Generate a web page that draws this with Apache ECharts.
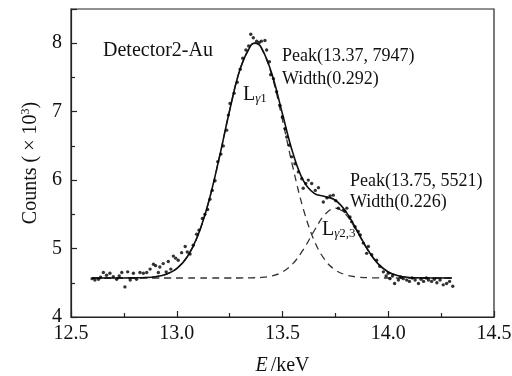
<!DOCTYPE html>
<html>
<head>
<meta charset="utf-8">
<script src="https://cdn.jsdelivr.net/npm/echarts@6/dist/echarts.min.js"></script>
<style>html,body{margin:0;padding:0;background:#fff}#c{width:512px;height:376px}</style>
</head>
<body>
<div id="c"></div>
<script>
// measured points (E in keV, counts in 10^3)
const dataE = [12.600,12.613,12.630,12.640,12.653,12.668,12.684,12.700,12.716,12.728,12.740,12.755,12.768,12.780,12.795,12.810,12.826,12.842,12.858,12.874,12.890,12.900,12.913,12.920,12.936,12.950,12.960,12.972,12.984,12.995,13.007,13.023,13.040,13.050,13.063,13.078,13.094,13.105,13.121,13.133,13.146,13.157,13.168,13.181,13.194,13.209,13.220,13.236,13.244,13.252,13.271,13.286,13.300,13.312,13.327,13.340,13.350,13.362,13.378,13.390,13.400,13.417,13.425,13.438,13.444,13.457,13.472,13.488,13.500,13.512,13.520,13.532,13.544,13.559,13.575,13.591,13.598,13.610,13.622,13.638,13.655,13.670,13.693,13.710,13.725,13.740,13.752,13.764,13.788,13.795,13.804,13.819,13.827,13.843,13.858,13.868,13.882,13.898,13.906,13.922,13.945,13.960,13.977,13.990,14.000,14.008,14.020,14.030,14.048,14.060,14.071,14.087,14.100,14.113,14.127,14.143,14.155,14.167,14.180,14.190,14.205,14.218,14.230,14.245,14.260,14.276,14.290,14.305];
const dataCounts = [4.56,4.54,4.55,4.58,4.65,4.61,4.64,4.59,4.55,4.60,4.65,4.44,4.66,4.54,4.64,4.55,4.65,4.64,4.65,4.70,4.77,4.75,4.65,4.73,4.78,4.66,4.81,4.70,4.89,4.86,4.83,4.94,5.03,4.95,4.92,5.05,5.21,5.27,5.44,5.50,5.57,5.72,5.85,5.99,6.27,6.38,6.50,6.73,6.95,7.12,7.27,7.43,7.62,7.78,7.90,7.96,8.13,8.08,8.03,8.01,8.03,8.04,7.90,7.73,7.54,7.48,7.29,7.09,6.92,6.75,6.63,6.51,6.34,6.24,6.12,6.02,5.88,5.95,6.00,5.95,5.85,5.89,5.68,5.74,5.77,5.78,5.70,5.59,5.56,5.54,5.59,5.46,5.39,5.32,5.25,5.20,5.08,4.93,5.03,4.91,4.83,4.74,4.66,4.60,4.64,4.56,4.60,4.49,4.54,4.58,4.56,4.54,4.52,4.57,4.54,4.49,4.55,4.52,4.57,4.54,4.52,4.55,4.50,4.54,4.47,4.49,4.52,4.45];

// fitted curves
const fitE      = [12.60,12.65,12.70,12.75,12.80,12.85,12.90,12.95,13.00,13.05,13.10,13.15,13.20,13.25,13.30,13.35,13.37,13.40,13.45,13.50,13.55,13.60,13.65,13.70,13.75,13.80,13.85,13.90,13.95,14.00,14.05,14.10,14.15,14.20,14.25,14.30];
const fitTotal  = [4.570,4.570,4.570,4.570,4.572,4.576,4.589,4.625,4.708,4.881,5.191,5.673,6.312,7.017,7.627,7.970,8.001,7.936,7.552,6.965,6.387,5.985,5.806,5.762,5.706,5.540,5.275,4.998,4.784,4.658,4.600,4.578,4.572,4.570,4.570,4.570];
const fitPeak1  = [4.570,4.570,4.570,4.570,4.572,4.576,4.589,4.625,4.708,4.881,5.191,5.673,6.312,7.017,7.627,7.968,8.000,7.928,7.522,6.877,6.174,5.562,5.116,4.837,4.686,4.615,4.585,4.575,4.571,4.570,4.570,4.570,4.570,4.570,4.570,4.570];
const fitPeak2  = [4.570,4.570,4.570,4.570,4.570,4.570,4.570,4.570,4.570,4.570,4.570,4.570,4.570,4.570,4.570,4.572,4.574,4.578,4.600,4.658,4.783,4.993,5.260,5.495,5.590,5.495,5.260,4.993,4.783,4.658,4.600,4.578,4.572,4.570,4.570,4.570];

const xTicks = [12.5, 13.0, 13.5, 14.0, 14.5];
const yTicks = [4, 5, 6, 7, 8];

const FONT = '"Liberation Serif", "DejaVu Serif", serif';
const zip = (a, b) => a.map((v, i) => [v, b[i]]);

const chart = echarts.init(document.getElementById('c'), null, {renderer: 'canvas'});
chart.setOption({
  animation: false,
  backgroundColor: '#fff',
  textStyle: {fontFamily: FONT, color: '#111'},
  grid: {left: 71, right: 18, top: 9, bottom: 59, containLabel: false, outerBoundsMode: 'none',
    show: true, borderColor: '#222', borderWidth: 1.2, backgroundColor: 'transparent'},
  xAxis: {
    type: 'value', min: 12.5, max: 14.5, interval: 0.5,
    axisLine: {show: true, lineStyle: {color: '#222', width: 1.2}},
    axisTick: {show: true, inside: true, length: 6, lineStyle: {color: '#222', width: 1.2}},
    minorTick: {show: true, splitNumber: 2, length: 4, lineStyle: {color: '#222', width: 1.2}},
    splitLine: {show: false},
    axisLabel: {fontFamily: FONT, fontSize: 20, color: '#111', margin: 7,
      formatter: v => xTicks.some(t => Math.abs(t - v) < 1e-9) ? v.toFixed(1) : ''},
    name: '{i|E}{n|/keV}', nameLocation: 'middle', nameGap: 39,
    nameTextStyle: {rich: {i: {fontFamily: FONT, fontSize: 20, fontStyle: 'italic', color: '#111', padding: [0, 3, 0, 0]}, n: {fontFamily: FONT, fontSize: 20, color: '#111'}}}
  },
  yAxis: {
    type: 'value', min: 4, max: 8.5, interval: 1,
    axisLine: {show: true, lineStyle: {color: '#222', width: 1.2}},
    axisTick: {show: true, inside: true, length: 6, lineStyle: {color: '#222', width: 1.2}},
    minorTick: {show: true, splitNumber: 2, length: 4, lineStyle: {color: '#222', width: 1.2}},
    splitLine: {show: false},
    axisLabel: {fontFamily: FONT, fontSize: 20, color: '#111', margin: 9,
      formatter: v => yTicks.indexOf(v) >= 0 ? String(v) : ''},
    name: '{n|Counts ( × 10}{s|3}{n|)}', nameLocation: 'middle', nameGap: 28, nameRotate: 90,
    nameTextStyle: {rich: {n: {fontFamily: FONT, fontSize: 20, color: '#111'}, s: {fontFamily: FONT, fontSize: 12, color: '#111', padding: [0, 0, 10, 0]}}}
  },
  series: [
    {type: 'line', data: zip(fitE, fitPeak1), smooth: 0.4, showSymbol: false, symbol: 'none',
      lineStyle: {color: '#333', width: 1.3, type: [7, 5]}, z: 2},
    {type: 'line', data: zip(fitE, fitPeak2), smooth: 0.4, showSymbol: false, symbol: 'none',
      lineStyle: {color: '#333', width: 1.3, type: [7, 5]}, z: 2},
    {type: 'line', data: zip(fitE, fitTotal), smooth: 0.4, showSymbol: false, symbol: 'none',
      lineStyle: {color: '#111', width: 1.6}, z: 3},
    {type: 'scatter', data: zip(dataE, dataCounts), symbol: 'circle', symbolSize: 3.4,
      itemStyle: {color: '#000'}, z: 4}
  ],
  graphic: [
    {type: 'text', left: 103, top: 41, style: {text: 'Detector2-Au', fontFamily: FONT, fontSize: 20, fill: '#111'}},
    {type: 'text', left: 282, top: 47, style: {text: 'Peak(13.37, 7947)', fontFamily: FONT, fontSize: 18, fill: '#111'}},
    {type: 'text', left: 282, top: 70, style: {text: 'Width(0.292)', fontFamily: FONT, fontSize: 18, fill: '#111'}},
    {type: 'text', left: 350, top: 172, style: {text: 'Peak(13.75, 5521)', fontFamily: FONT, fontSize: 18, fill: '#111'}},
    {type: 'text', left: 350, top: 193, style: {text: 'Width(0.226)', fontFamily: FONT, fontSize: 18, fill: '#111'}},
    {type: 'text', left: 243, top: 85, style: {text: '{L|L}{g|γ}{d|1}', rich: {
      L: {fontFamily: FONT, fontSize: 20, fill: '#111'},
      g: {fontFamily: FONT, fontSize: 13, fontStyle: 'italic', fill: '#111', padding: [8, 0, 0, 0]},
      d: {fontFamily: FONT, fontSize: 13, fill: '#111', padding: [8, 0, 0, 0]}}}},
    {type: 'text', left: 322, top: 220, style: {text: '{L|L}{g|γ}{d|2,3}', rich: {
      L: {fontFamily: FONT, fontSize: 20, fill: '#111'},
      g: {fontFamily: FONT, fontSize: 13, fontStyle: 'italic', fill: '#111', padding: [8, 0, 0, 0]},
      d: {fontFamily: FONT, fontSize: 13, fill: '#111', padding: [8, 0, 0, 0]}}}}
  ]
});
</script>
</body>
</html>
